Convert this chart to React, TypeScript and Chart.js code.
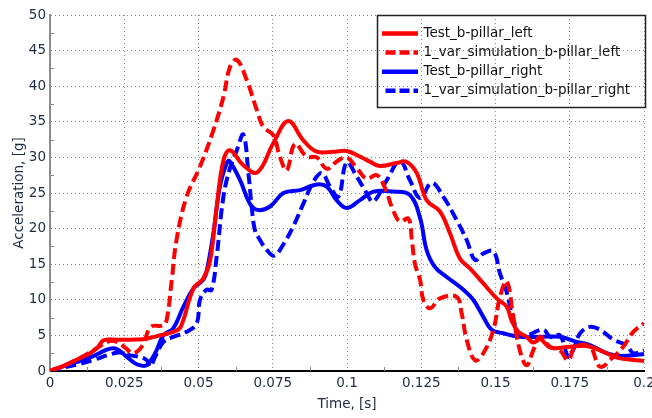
import React, { useEffect, useRef } from 'react';
import { Chart, registerables } from 'chart.js';

Chart.register(...registerables);

// ---- data (time in s, acceleration in g) ----
const testLeftT = [0, 0.005, 0.01, 0.0135, 0.016, 0.018, 0.022, 0.027, 0.032, 0.036, 0.0415, 0.044, 0.0483, 0.0516, 0.0539, 0.0561, 0.0584, 0.0606, 0.0651, 0.0698, 0.0752, 0.0802, 0.0853, 0.0898, 0.0954, 0.0999, 0.1044, 0.1077, 0.111, 0.1167, 0.12, 0.1235, 0.1268, 0.1313, 0.1347, 0.138, 0.1414, 0.1459, 0.1504, 0.1538, 0.1555, 0.1577, 0.1605, 0.1627, 0.165, 0.1684, 0.1751, 0.1807, 0.1852, 0.1908, 0.2];
const testLeftV = [0, 0.8, 1.8, 2.5, 3.3, 4.3, 4.4, 4.4, 4.5, 4.9, 5.5, 6.2, 11.6, 13.0, 15.5, 23.0, 29.6, 31.0, 28.9, 27.9, 32.0, 35.1, 32.4, 30.8, 30.8, 30.9, 30.1, 29.4, 28.8, 29.2, 29.4, 27.8, 24.0, 22.4, 19.3, 15.8, 14.4, 12.3, 10.2, 9.0, 7.0, 5.5, 4.8, 4.0, 4.5, 3.3, 3.4, 3.5, 2.9, 1.9, 1.4];

const simLeftT = [0, 0.005, 0.01, 0.015, 0.02, 0.023, 0.0255, 0.028, 0.031, 0.034, 0.038, 0.0393, 0.041, 0.0426, 0.046, 0.0505, 0.055, 0.0584, 0.0606, 0.0629, 0.0662, 0.0696, 0.0718, 0.0752, 0.0774, 0.0797, 0.0825, 0.0864, 0.0898, 0.0932, 0.0968, 0.0999, 0.1033, 0.1066, 0.11, 0.1125, 0.1156, 0.1178, 0.1207, 0.1218, 0.1229, 0.1246, 0.1257, 0.128, 0.1313, 0.1369, 0.1386, 0.1403, 0.1431, 0.1459, 0.1493, 0.1515, 0.1538, 0.156, 0.1582, 0.1605, 0.1627, 0.165, 0.1684, 0.1717, 0.1745, 0.1768, 0.1818, 0.1852, 0.1897, 0.193, 0.1964, 0.2];
const simLeftV = [0, 0.8, 1.8, 3.0, 4.2, 4.0, 3.2, 2.5, 3.5, 6.2, 6.4, 7.2, 12.8, 18.4, 24.5, 28.7, 33.8, 38.5, 42.7, 43.7, 40.9, 36.7, 34.3, 33.1, 30.1, 28.2, 31.9, 30.1, 30.0, 28.4, 29.5, 30.0, 28.5, 27.0, 27.5, 26.0, 22.5, 21.0, 21.4, 18.5, 15.0, 12.8, 10.0, 8.8, 10.2, 10.4, 8.1, 4.4, 1.5, 2.5, 5.8, 10.4, 12.6, 7.6, 2.9, 0.8, 2.9, 4.8, 3.4, 2.9, 1.5, 3.4, 3.4, 0.6, 2.0, 3.4, 5.5, 6.7];

const testRightT = [0, 0.004, 0.0079, 0.0135, 0.0191, 0.0215, 0.0236, 0.0258, 0.0285, 0.0303, 0.0325, 0.0354, 0.0382, 0.0415, 0.0449, 0.0483, 0.0516, 0.0527, 0.055, 0.0572, 0.0595, 0.0604, 0.064, 0.0673, 0.0701, 0.0741, 0.0786, 0.0842, 0.0898, 0.0932, 0.0965, 0.0999, 0.1044, 0.1089, 0.1156, 0.1212, 0.1246, 0.1268, 0.1296, 0.1336, 0.1392, 0.1425, 0.1459, 0.1487, 0.1526, 0.1582, 0.165, 0.1717, 0.1773, 0.1818, 0.1874, 0.1919, 0.2];
const testRightV = [0, 0.6, 1.1, 1.9, 3.0, 3.2, 2.8, 2.0, 1.1, 0.8, 0.8, 2.5, 5.0, 6.0, 9.0, 11.6, 12.8, 13.9, 19.3, 25.9, 29.2, 29.5, 26.8, 23.5, 22.6, 23.1, 25.0, 25.4, 26.2, 25.9, 24.0, 22.9, 24.0, 25.2, 25.2, 24.7, 21.5, 17.0, 14.6, 13.2, 11.4, 10.0, 7.6, 5.8, 5.3, 4.8, 4.8, 4.8, 4.1, 3.65, 2.5, 2.1, 2.4];

const simRightT = [0, 0.005, 0.01, 0.015, 0.02, 0.0235, 0.027, 0.03, 0.0326, 0.0337, 0.0354, 0.0382, 0.0415, 0.046, 0.0494, 0.0505, 0.0527, 0.0544, 0.0561, 0.0584, 0.0606, 0.0629, 0.0651, 0.0668, 0.0679, 0.069, 0.0707, 0.073, 0.0755, 0.0786, 0.0819, 0.0853, 0.0887, 0.0915, 0.0943, 0.0971, 0.0999, 0.1033, 0.1066, 0.1088, 0.1134, 0.1178, 0.1212, 0.1246, 0.1285, 0.1324, 0.1369, 0.1403, 0.1431, 0.1459, 0.1493, 0.1515, 0.1538, 0.156, 0.1582, 0.1605, 0.1661, 0.1684, 0.1717, 0.1745, 0.1762, 0.1785, 0.1818, 0.1852, 0.1897, 0.1942, 0.1964, 0.2];
const simRightV = [0, 0.5, 1.0, 1.6, 2.3, 2.6, 2.2, 2.0, 1.5, 0.6, 2.0, 4.1, 4.8, 5.5, 6.7, 10.0, 11.4, 11.4, 16.0, 24.5, 28.5, 31.0, 33.2, 27.8, 23.1, 19.8, 18.4, 17.0, 16.2, 17.8, 20.3, 23.5, 26.6, 27.8, 25.9, 24.5, 29.3, 27.3, 25.0, 23.8, 26.8, 29.5, 26.8, 24.3, 26.4, 24.5, 21.2, 18.4, 15.6, 16.5, 16.8, 13.7, 11.0, 7.2, 5.0, 5.0, 5.8, 4.8, 5.0, 2.0, 3.0, 5.3, 6.2, 5.8, 4.4, 3.6, 2.5, 2.9];

const seriesNames = ['Test_b-pillar_left', '1_var_simulation_b-pillar_left', 'Test_b-pillar_right', '1_var_simulation_b-pillar_right'];
const xTickLabels = ['0', '0.025', '0.05', '0.075', '0.1', '0.125', '0.15', '0.175', '0.2'];
const yTickLabels = ['0', '5', '10', '15', '20', '25', '30', '35', '40', '45', '50'];
const xMinorTicks = [0.0125, 0.0375, 0.0625, 0.0875, 0.1125, 0.1375, 0.1625, 0.1875];
const yMinorTicks = [2.5, 7.5, 12.5, 17.5, 22.5, 27.5, 32.5, 37.5, 42.5, 47.5];

const FONT = 'DejaVu Sans';
const TEXT_COLOR = '#1e2a44';
const RED = '#ff0000';
const BLUE = '#0000ff';
const DASH = [11, 5];

const toPoints = (t: number[], v: number[]) => t.map((x, i) => ({ x, y: v[i] }));

const minorTicksPlugin = {
  id: 'minorTicks',
  beforeDatasetsDraw(chart: any) {
    const { ctx, chartArea, scales } = chart;
    ctx.save();
    ctx.strokeStyle = '#8a8a8a';
    ctx.lineWidth = 1;
    ctx.beginPath();
    yMinorTicks.forEach((v) => {
      const py = Math.round(scales.y.getPixelForValue(v)) + 0.5;
      ctx.moveTo(chartArea.left, py);
      ctx.lineTo(chartArea.left + 4, py);
    });
    xMinorTicks.forEach((t) => {
      const px = Math.round(scales.x.getPixelForValue(t)) + 0.5;
      ctx.moveTo(px, chartArea.bottom);
      ctx.lineTo(px, chartArea.bottom - 4);
    });
    ctx.stroke();
    ctx.restore();
  },
};

const boxLegendPlugin = {
  id: 'boxLegend',
  afterDatasetsDraw(chart: any) {
    const { ctx, chartArea } = chart;
    const right = chartArea.right + 1.5;
    const top = chartArea.top;
    const width = 268;
    const height = 92;
    const left = right - width;
    ctx.save();
    ctx.strokeStyle = '#222';
    ctx.lineWidth = 1.5;
    ctx.strokeRect(left, top + 0.5, width, height);
    chart.data.datasets.forEach((ds: any, i: number) => {
      const cy = top + 18.5 + i * 19.1;
      ctx.beginPath();
      ctx.strokeStyle = ds.borderColor;
      ctx.lineWidth = 4.5;
      ctx.lineCap = 'butt';
      if (ds.borderDash && ds.borderDash.length) {
        ctx.setLineDash([10, 4]);
        ctx.moveTo(left + 8, cy);
      } else {
        ctx.setLineDash([]);
        ctx.moveTo(left + 4.5, cy);
      }
      ctx.lineTo(left + 40.5, cy);
      ctx.stroke();
      ctx.setLineDash([]);
      ctx.fillStyle = '#111';
      ctx.font = `13.5px "${FONT}"`;
      ctx.textBaseline = 'middle';
      ctx.textAlign = 'left';
      ctx.fillText(ds.label, left + 46, cy);
    });
    ctx.restore();
  },
};

export default function App() {
  const canvasRef = useRef<HTMLCanvasElement | null>(null);

  useEffect(() => {
    const canvas = canvasRef.current;
    if (!canvas) return;
    const common = {
      borderWidth: 4,
      pointRadius: 0,
      pointHoverRadius: 0,
      fill: false,
      tension: 0.4,
      borderCapStyle: 'butt' as const,
      borderJoinStyle: 'round' as const,
    };
    const chart = new Chart(canvas, {
      type: 'line',
      data: {
        datasets: [
          { ...common, label: seriesNames[0], data: toPoints(testLeftT, testLeftV), borderColor: RED, borderDash: [] },
          { ...common, label: seriesNames[1], data: toPoints(simLeftT, simLeftV), borderColor: RED, borderDash: DASH },
          { ...common, label: seriesNames[2], data: toPoints(testRightT, testRightV), borderColor: BLUE, borderDash: [] },
          { ...common, label: seriesNames[3], data: toPoints(simRightT, simRightV), borderColor: BLUE, borderDash: DASH },
        ],
      },
      options: {
        animation: false,
        responsive: false,
        devicePixelRatio: 1,
        events: [],
        layout: { padding: { top: 15, right: 8, bottom: 0, left: 0 } },
        plugins: {
          legend: { display: false },
          tooltip: { enabled: false },
        },
        scales: {
          x: {
            type: 'linear',
            min: 0,
            max: 0.2,
            ticks: {
              stepSize: 0.025,
              padding: 4,
              color: TEXT_COLOR,
              font: { family: FONT, size: 13.5 },
              maxRotation: 0,
              autoSkip: false,
              callback: (_v: any, i: number) => xTickLabels[i],
            },
            grid: { color: '#8a8a8a', lineWidth: 1, drawTicks: false },
            border: { color: '#000', width: 2, dash: [1, 3] },
            title: {
              display: true,
              text: 'Time, [s]',
              color: TEXT_COLOR,
              font: { family: FONT, size: 13.5 },
              padding: { top: 0, bottom: 5 },
            },
            afterFit: (scale: any) => {
              scale.height = 47;
              scale.paddingLeft = 0;
              scale.paddingRight = 0;
            },
          },
          y: {
            type: 'linear',
            min: 0,
            max: 50,
            ticks: {
              stepSize: 5,
              padding: 4,
              color: TEXT_COLOR,
              font: { family: FONT, size: 13.5 },
              callback: (_v: any, i: number) => yTickLabels[i],
            },
            grid: { color: '#8a8a8a', lineWidth: 1, drawTicks: false },
            border: { color: '#8c8c8c', width: 2, dash: [1, 3] },
            title: {
              display: true,
              text: 'Acceleration, [g]',
              color: TEXT_COLOR,
              font: { family: FONT, size: 13.5 },
              padding: { top: 11, bottom: 0 },
            },
            afterFit: (scale: any) => {
              scale.width = 50;
            },
          },
        },
      },
      plugins: [minorTicksPlugin, boxLegendPlugin],
    } as any);
    return () => chart.destroy();
  }, []);

  return (
    <div style={{ position: 'fixed', left: 0, top: 0, width: 652, height: 418, background: '#fff', overflow: 'hidden' }}>
      <canvas ref={canvasRef} width={652} height={418} style={{ width: 652, height: 418, display: 'block' }} />
    </div>
  );
}
